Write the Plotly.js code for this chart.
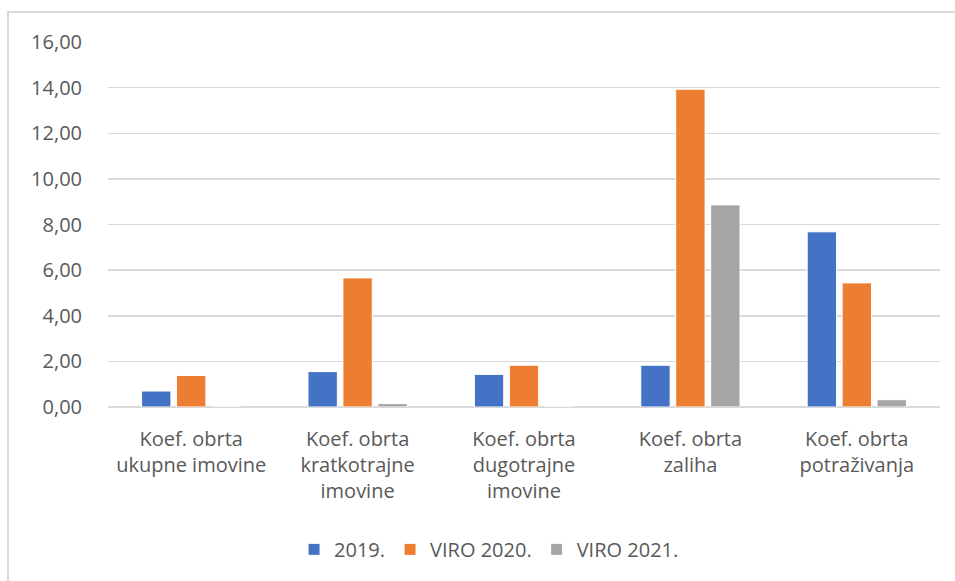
<!DOCTYPE html>
<html>
<head>
<meta charset="utf-8">
<script src="https://cdn.plot.ly/plotly-3.0.1.min.js"></script>
<style>
  html, body { margin: 0; padding: 0; background: #ffffff; }
  #wrap { position: relative; width: 955px; height: 581px; overflow: hidden; }
  #chart { position: absolute; left: 0; top: 0; width: 955px; height: 581px; }
  #frame { position: absolute; left: 7px; top: 11px; width: 960px; height: 600px;
           border-top: 2px solid #d9d9d9; border-left: 2px solid #d9d9d9; pointer-events: none; }
</style>
</head>
<body>
<div id="wrap">
  <div id="chart"></div>
  <div id="frame"></div>
</div>
<script>
const categories = [
  "Koef. obrta<br>ukupne imovine",
  "Koef. obrta<br>kratkotrajne<br>imovine",
  "Koef. obrta<br>dugotrajne<br>imovine",
  "Koef. obrta<br>zaliha",
  "Koef. obrta<br>potraživanja"
];
const seriesNames = ["2019.", "VIRO 2020.", "VIRO 2021."];
const values2019 = [0.70, 1.55, 1.43, 1.83, 7.68];
const valuesViro2020 = [1.38, 5.66, 1.83, 13.93, 5.44];
const valuesViro2021 = [0.00, 0.15, 0.00, 8.86, 0.32];
const colors = ["#4472C4", "#ED7D31", "#A5A5A5"];
const yTickVals = [0, 2, 4, 6, 8, 10, 12, 14, 16];
const yTickText = ["0,00", "2,00", "4,00", "6,00", "8,00", "10,00", "12,00", "14,00", "16,00"];

const allValues = [values2019, valuesViro2020, valuesViro2021];
const traces = allValues.map((vals, i) => ({
  type: "bar",
  name: seriesNames[i],
  x: categories,
  y: vals,
  marker: { color: colors[i], line: { color: "#ffffff", width: 1 } },
  hoverinfo: "skip"
}));

const font = { family: "Open Sans, Liberation Sans, sans-serif", size: 20, color: "#595959" };

const layout = {
  width: 955,
  height: 581,
  margin: { l: 108, r: 15, t: 42, b: 174 },
  paper_bgcolor: "#ffffff",
  plot_bgcolor: "#ffffff",
  font: font,
  barmode: "group",
  bargap: 0.37,
  bargroupgap: 0.16,
  showlegend: true,
  legend: {
    orientation: "h",
    x: 0.458, xanchor: "center",
    y: -0.39, yanchor: "middle",
    font: font,
    itemwidth: 30,
    traceorder: "normal"
  },
  xaxis: {
    type: "category",
    showgrid: false,
    showline: false,
    ticks: "",
    tickfont: font,
    tickangle: 0,
    ticklabelstandoff: 18,
    fixedrange: true
  },
  yaxis: {
    range: [0, 16],
    tickvals: yTickVals,
    ticktext: yTickText,
    showgrid: true,
    gridcolor: "#d9d9d9",
    gridwidth: 1.5,
    zeroline: true,
    zerolinecolor: "#d9d9d9",
    zerolinewidth: 1.5,
    showline: false,
    ticks: "",
    tickfont: font,
    ticklabelstandoff: 25,
    fixedrange: true
  }
};

Plotly.newPlot("chart", traces, layout, { displayModeBar: false, staticPlot: true });
</script>
</body>
</html>
